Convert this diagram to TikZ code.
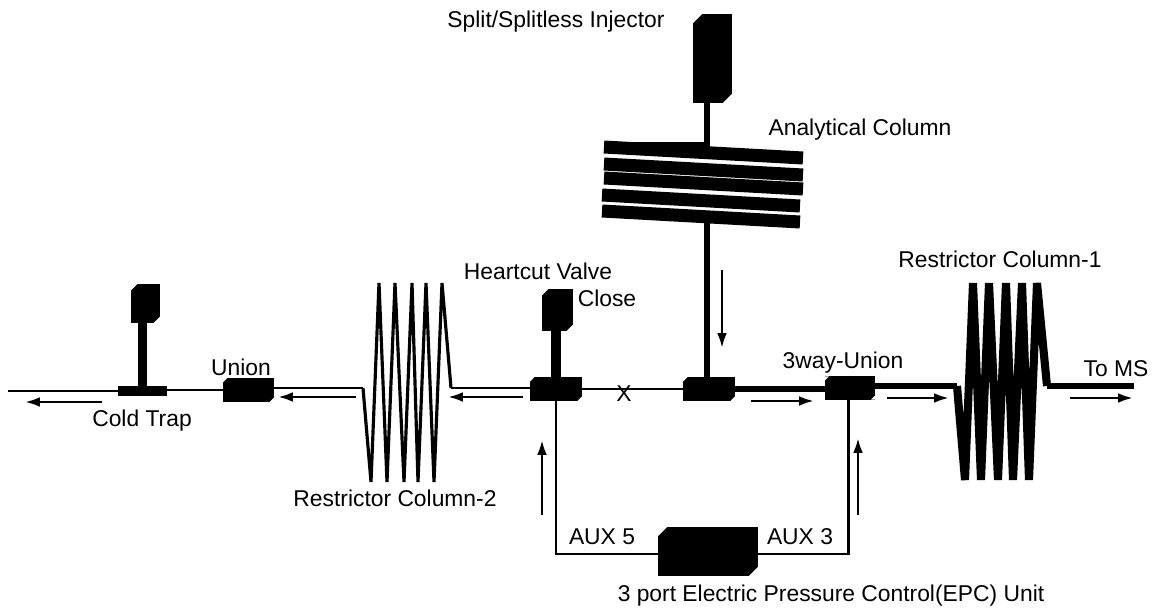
\documentclass[tikz,border=0pt]{standalone}
\usepackage{fontspec}
\setmainfont{Liberation Sans}
\usetikzlibrary{arrows.meta}
\tikzset{
  block/.style={fill=black, inner sep=0pt, outer sep=0pt, path picture={
    \fill[white] (path picture bounding box.north west) -- ++(#1,0) -- ++(-#1,-#1) -- cycle;
    \fill[white] (path picture bounding box.south east) -- ++(-#1,0) -- ++(#1,#1) -- cycle;}},
  block/.default=3.5pt,
  label/.style={font=\fontsize{13}{15}\selectfont, inner sep=0pt},
  flow/.style={-{Latex[length=8.5pt,width=5.6pt]}, line width=1.5pt},
  thin tube/.style={line width=1.7pt},
  thick tube/.style={line width=3.4pt}
}
\begin{document}
\begin{tikzpicture}[x=0.02cm,y=-0.02cm]
  \useasboundingbox (0,0) rectangle (1153,612);
  \node[block, minimum width=16.5pt, minimum height=22pt] (ColdValve) at (145.5,303.5) {};
  \node[fill=black, inner sep=0pt, minimum width=27.8pt, minimum height=5.7pt] (Trap) at (142.5,391) {};
  \node[block=2.5pt, minimum width=29pt, minimum height=13.6pt] (Union) at (248.5,390) {};
  \node[block=2.5pt, minimum width=29.5pt, minimum height=13.6pt] (Heartcut) at (556,389) {};
  \node[block, minimum width=17.5pt, minimum height=23.8pt] (CloseValve) at (557.5,310) {};
  \node[block=2.5pt, minimum width=29.5pt, minimum height=13.6pt] (Tee) at (709,389) {};
  \node[block=2.5pt, minimum width=29pt, minimum height=13.2pt] (Way) at (850,388) {};
  \node[block=5pt, minimum width=22pt, minimum height=50.5pt] (Injector) at (712.5,58.5) {};
  \node[block=5pt, minimum width=56.7pt, minimum height=27.8pt] (EPC) at (708,551.5) {};

  \coordinate (End) at (8,391);
  \coordinate (MS) at (1134,386);
  \coordinate (CoilIn) at (707,147);
  \coordinate (CoilOut) at (707,222);
  \coordinate (TwoR) at (451,388);
  \coordinate (TwoL) at (363,388);
  \coordinate (OneR) at (1047,386);
  \coordinate (OneL) at (957,386);
  \coordinate (AuxL) at (556,554);
  \coordinate (AuxR) at (848,554);

  \draw[line width=1.5pt] (Trap.west) -- (End);
  \draw[thin tube] (Union.west) -- (Union.west -| Trap.east);
  \draw[line width=5.2pt] (ColdValve.south -| Trap.north) -- (Trap.north);
  \draw[line width=5.5pt] (CloseValve.south -| Heartcut.north) -- (Heartcut.north);
  \draw[thin tube] (Heartcut.east) -- (Tee.west);
  \draw[line width=3.8pt] (Injector.south -| CoilIn) -- (CoilIn);
  \draw[line width=3pt] (CoilOut) -- (CoilOut |- Tee.north);
  \draw[thick tube] (Tee.east) -- (Tee.east -| Way.west);
  \draw[thick tube] (Way.east |- OneL) -- (OneL);
  \draw[thick tube] (OneR) -- (MS);
  \draw[thin tube] (Union.east |- TwoL) -- (TwoL);
  \draw[thin tube] (TwoR) -- (TwoR -| Heartcut.west);
  \draw[thin tube] (Heartcut.south) -- (AuxL) -- (AuxL -| EPC.west);
  \draw[thin tube] (Way.south -| AuxR) -- (AuxR) -- (AuxR -| EPC.east);

  \draw[line width=1.8pt] (TwoL) -- (371,482) -- (379,283) -- (387,482) -- (395,283) -- (404,482)
    -- (412,283) -- (418,482) -- (426,283) -- (434,482) -- (442,283) -- (TwoR);
  \draw[line width=4.6pt] (OneL) -- (965,480) -- (973,283) -- (981,480) -- (989,283) -- (998,480)
    -- (1006,283) -- (1013,480) -- (1022,283) -- (1029,480) -- (1037,283) -- (OneR);

  \draw[line width=6.2pt] (CoilIn) -- (604,147);
  \foreach \xa/\ya/\xb/\yb in {604/147/803/158, 604/164/803/175, 604/178/803/189,
      602/195/800/206, 602/211/800/222}
    \draw[line width=7.4pt] (\xa,\ya) -- (\xb,\yb);

  \foreach \name/\xa/\ya/\xb/\yb in {A/102/402/25/402, B/356/397/278/397, C/523/397/448/397,
      D/722/270/722/348, E/751/401/814/401, F/887/398/949/398, G/1070/398/1133/398,
      H/542/515/542/440, I/858/515/858/438} {
    \coordinate (\name a) at (\xa,\ya);
    \coordinate (\name b) at (\xb,\yb);
    \draw[flow] (\name a) -- (\name b);
  }

  \node[label] (ColdLabel) at (142,421) {Cold Trap};
  \node[label] (UnionLabel) at (241,367) {Union};
  \node[label] (TwoLabel) at (395,498) {Restrictor Column-2};
  \node[label] (HeartLabel) at (538,271) {Heartcut Valve};
  \node[label] (CloseLabel) at (607,298) {Close};
  \node[label] (CrossLabel) at (624,394) {X};
  \node[label] (InjLabel) at (556,22) {Split/Splitless Injector};
  \node[label] (ColLabel) at (860,130) {Analytical Column};
  \node[label] (WayLabel) at (843,363) {3way-Union};
  \node[label] (OneLabel) at (1000,259) {Restrictor Column-1};
  \node[label] (MSLabel) at (1116,369) {To MS};
  \node[label] (AuxFive) at (602,537) {AUX 5};
  \node[label] (AuxThree) at (800,537) {AUX 3};
  \node[label] (EPCLabel) at (831,596) {3 port Electric Pressure Control(EPC) Unit};
\end{tikzpicture}
\end{document}
